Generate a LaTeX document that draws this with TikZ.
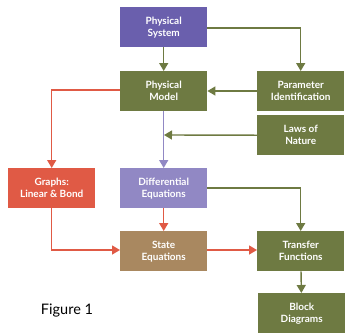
\documentclass[tikz,border=0pt]{standalone}
\usepackage{fontspec}
\setmainfont{Lato}
\usetikzlibrary{arrows.meta}
\definecolor{cpurple}{HTML}{6A5FAD}
\definecolor{clpurple}{HTML}{9188C4}
\definecolor{cgreen}{HTML}{6E7A42}
\definecolor{cred}{HTML}{E05A45}
\definecolor{ctan}{HTML}{A98860}
\begin{document}
\begin{tikzpicture}[x=1pt,y=-1pt,
  box/.style={minimum width=87pt,minimum height=40pt,inner sep=0pt,text=white,font=\bfseries\fontsize{10}{12}\selectfont,align=center,anchor=north west},
  conn/.style={line width=1.4pt,-{Triangle[length=8pt,width=9pt]}},
  ]
\useasboundingbox (0,0) rectangle (345,333);
\node[box,fill=cpurple] (ps) at (120,7) {Physical\\System};
\node[box,fill=cgreen] (pm) at (120,71) {Physical\\Model};
\node[box,fill=cgreen] (pi) at (257,71) {Parameter\\Identification};
\node[box,fill=cgreen] (ln) at (257,115) {Laws of\\Nature};
\node[box,fill=cred] (gr) at (8,168) {Graphs:\\Linear \& Bond};
\node[box,fill=clpurple] (de) at (120,168) {Differential\\Equations};
\node[box,fill=ctan] (se) at (120,231) {State\\Equations};
\node[box,fill=cgreen] (tf) at (257,231) {Transfer\\Functions};
\node[box,fill=cgreen] (bd) at (258,293) {Block\\Diagrams};
\node[font=\fontsize{14.5}{16}\selectfont] (fig) at (67,311) {Figure 1};
\coordinate (lnend) at (164,135);
\draw[conn,cgreen] (ps) -- (pm);
\draw[conn,cgreen] (ps.east |- 0,28) -| (pi.north);
\draw[conn,cgreen] (pi.west |- 0,91) -- (pm.east |- 0,91);
\draw[conn,clpurple] (pm) -- (de);
\draw[conn,cgreen] (ln.west) -- (lnend);
\draw[conn,cred] (pm.west |- 0,90) -| (gr.north);
\draw[conn,cred] (gr.south) |- (se.west |- 0,250);
\draw[conn,cred] (de) -- (se);
\draw[conn,cgreen] (de.east |- 0,188) -| (tf.north);
\draw[conn,cred] (se.east |- 0,250) -- (tf.west |- 0,250);
\draw[conn,cgreen] (tf) -- (bd);
\end{tikzpicture}
\end{document}
